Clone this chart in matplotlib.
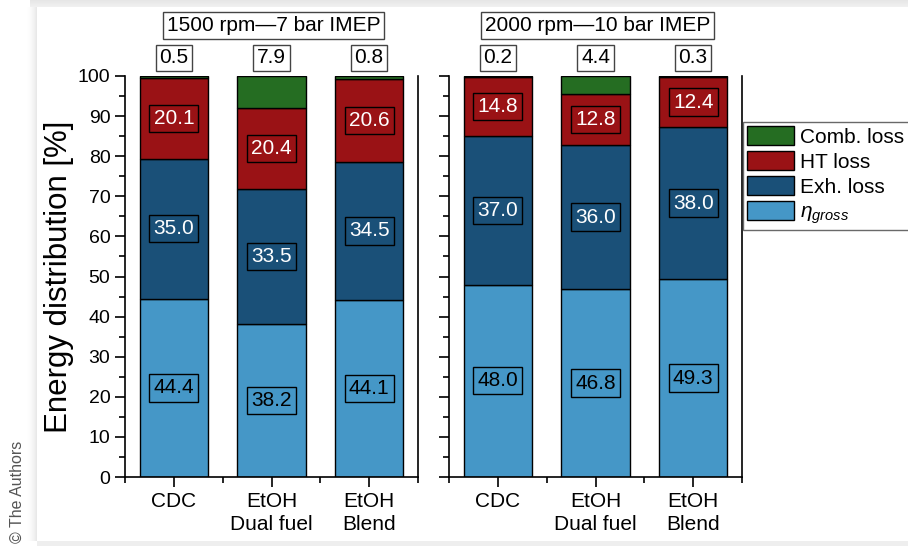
import matplotlib.pyplot as plt
import numpy as np
from matplotlib.patches import Patch
from matplotlib.ticker import MultipleLocator, FixedLocator

plt.rcParams['font.family'] = ['Liberation Sans', 'DejaVu Sans']
plt.rcParams['mathtext.fontset'] = 'custom'
plt.rcParams['mathtext.it'] = 'Liberation Sans:italic'
plt.rcParams['mathtext.rm'] = 'Liberation Sans'

# energy shares in % for each operating point
fuels = ['CDC', 'EtOH\nDual fuel', 'EtOH\nBlend']
titles = ['1500 rpm\u20147 bar IMEP', '2000 rpm\u201410 bar IMEP']

eta_gross = [[44.4, 38.2, 44.1], [48.0, 46.8, 49.3]]
exh_loss = [[35.0, 33.5, 34.5], [37.0, 36.0, 38.0]]
ht_loss = [[20.1, 20.4, 20.6], [14.8, 12.8, 12.4]]
comb_loss = [[0.5, 7.9, 0.8], [0.2, 4.4, 0.3]]

c_eta = '#4597c7'
c_exh = '#1a5078'
c_ht = '#9a1215'
c_comb = '#256d22'

W, H = 908, 546
fig = plt.figure(figsize=(W / 100, H / 100), dpi=100)

# soft page shadow behind the chart
bg = np.ones((H, W))
for i in range(12):
    bg[7:541, 25 + i] = 1 - 0.09 * ((i + 1) / 12) ** 2
bg[:7, 30:] = np.linspace(0.90, 0.94, 7)[:, None]
bg[541:, 37:] = 0.93
bg_ax = fig.add_axes([0, 0, 1, 1], zorder=-10)
bg_ax.imshow(bg, cmap='gray', vmin=0, vmax=1, aspect='auto')
bg_ax.axis('off')
fig.text(17 / W, 1 - 492 / H, '\u00a9 The Authors', rotation=90, ha='center', va='center',
         fontsize=11.5, color='#555555')

x = np.arange(len(fuels))
fs = 15
lefts = [125 / W, 449 / W]
ax_w = (418 - 125) / W
ax_b = 1 - 477 / H
ax_h = (477 - 76) / H


def value_box(ax, xpos, ypos, val, fc, tc):
    ax.text(xpos, ypos, f'{val:.1f}', ha='center', va='center', fontsize=fs, color=tc,
            bbox=dict(boxstyle='square,pad=0.2', fc=fc, ec='black', lw=1.0), zorder=5)


for k in range(2):
    ax = fig.add_axes([lefts[k], ax_b, ax_w, ax_h])
    eta = np.array(eta_gross[k])
    exh = np.array(exh_loss[k])
    ht = np.array(ht_loss[k])
    comb = np.array(comb_loss[k])
    kw = dict(width=0.7, edgecolor='black', linewidth=1.0)
    ax.bar(x, eta, color=c_eta, **kw)
    ax.bar(x, exh, bottom=eta, color=c_exh, **kw)
    ax.bar(x, ht, bottom=eta + exh, color=c_ht, **kw)
    ax.bar(x, comb, bottom=eta + exh + ht, color=c_comb, **kw)

    for i in range(len(x)):
        value_box(ax, x[i], eta[i] / 2, eta[i], c_eta, 'black')
        value_box(ax, x[i], eta[i] + exh[i] / 2, exh[i], c_exh, 'white')
        value_box(ax, x[i], eta[i] + exh[i] + ht[i] / 2, ht[i], c_ht, 'white')
        ax.text(x[i], 104.5, f'{comb[i]:.1f}', ha='center', va='center', fontsize=fs,
                clip_on=False,
                bbox=dict(boxstyle='square,pad=0.18', fc='white', ec='#444444', lw=1.0))

    ax.text(1.02, 112.6, titles[k], ha='center', va='center', fontsize=fs, clip_on=False,
            bbox=dict(boxstyle='square,pad=0.18', fc='white', ec='#444444', lw=1.0))

    ax.set_xlim(-0.5, 2.5)
    ax.set_ylim(0, 100)
    ax.spines['top'].set_visible(False)
    for s in ['left', 'right', 'bottom']:
        ax.spines[s].set_linewidth(1.2)
    ax.set_xticks(x)
    ax.set_xticklabels(fuels, fontsize=fs, linespacing=1.25)
    ax.xaxis.set_minor_locator(FixedLocator([-0.5, 0.5, 1.5, 2.5]))
    ax.yaxis.set_major_locator(MultipleLocator(10))
    ax.yaxis.set_minor_locator(MultipleLocator(5))
    ax.tick_params(which='major', direction='out', length=7, width=1.2, labelsize=14)
    ax.tick_params(which='minor', direction='out', length=4, width=1.2)
    ax.tick_params(axis='x', labelsize=fs, pad=4)
    ax.tick_params(axis='y', which='both', right=False)
    if k == 0:
        ax.set_ylabel('Energy distribution [%]', fontsize=22.5, labelpad=3)
    else:
        ax.set_yticklabels([])

handles = [Patch(fc=c_comb, ec='black', label='Comb. loss'),
           Patch(fc=c_ht, ec='black', label='HT loss'),
           Patch(fc=c_exh, ec='black', label='Exh. loss'),
           Patch(fc=c_eta, ec='black', label=r'$\eta_{gross}$')]
leg = fig.legend(handles=handles, loc='upper left', bbox_to_anchor=(743 / W, 1 - 122 / H),
                 bbox_transform=fig.transFigure, fontsize=fs, frameon=True, fancybox=False,
                 edgecolor='#444444', handlelength=2.25, handleheight=1.05,
                 labelspacing=0.2, borderpad=0.2, handletextpad=0.3, borderaxespad=0)
leg.get_frame().set_linewidth(1.0)

fig.savefig('out.png', dpi=100)
